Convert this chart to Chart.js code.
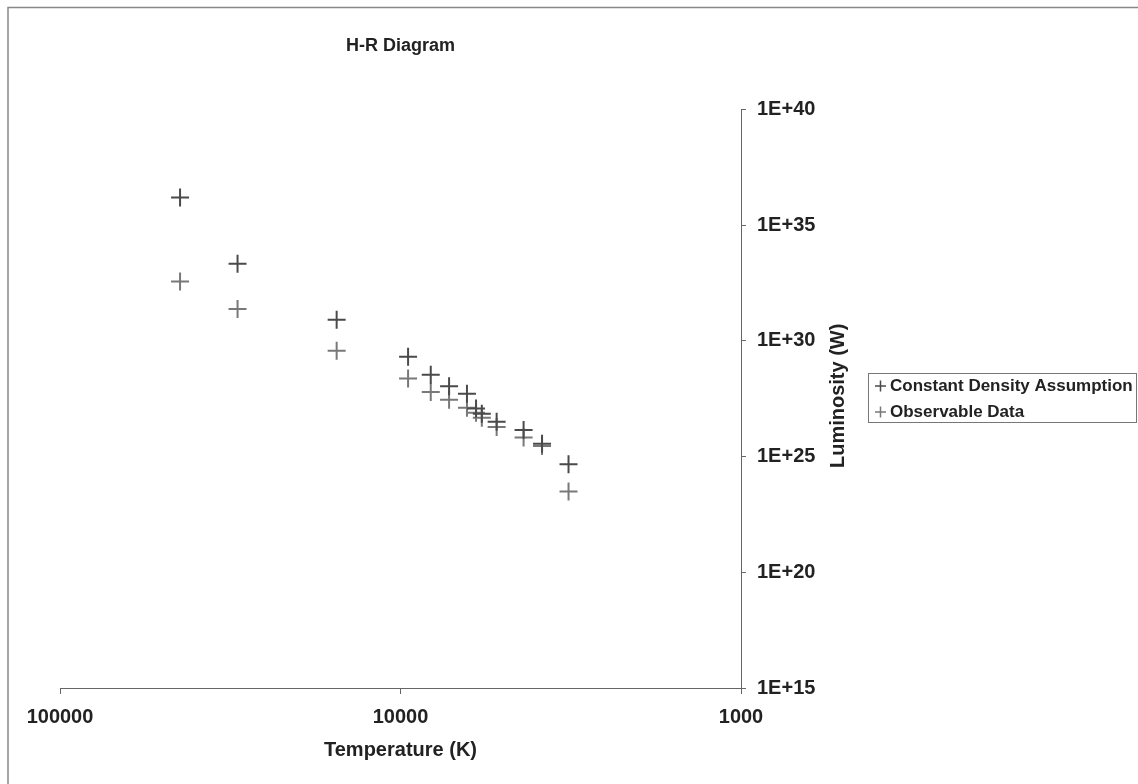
<!DOCTYPE html>
<html>
<head>
<meta charset="utf-8">
<title>H-R Diagram</title>
<script src="https://cdn.jsdelivr.net/npm/chart.js@4.4.1/dist/chart.umd.min.js"></script>
<style>
  html, body { margin: 0; padding: 0; background: #fff; }
  canvas { display: block; }
</style>
</head>
<body>
<canvas id="grafico" width="1138" height="784"></canvas>
<script>
// datos
const temperaturas = [44400, 30100, 15400, 9500, 8150, 7200, 6380, 6000, 5770, 5220, 4350, 3840, 3210];
const densidadConstante = [1.6e36, 2.2e33, 8.3e30, 2.1e29, 3.5e28, 1.1e28, 5.2e27, 1.2e27, 7.1e26, 3.2e26, 1.4e26, 3.6e25, 4.7e24];
const observables = [3.7e32, 2.4e31, 3.8e29, 2.4e28, 6.2e27, 2.9e27, 1.3e27, 7.8e26, 4.8e26, 1.9e26, 6.8e25, 2.9e25, 3.1e23];
const ticksX = [100000, 10000, 1000];
const ticksY = [1e15, 1e20, 1e25, 1e30, 1e35, 1e40];

const fuente = '"Liberation Sans", Arial, sans-serif';
const colorTexto = '#222';
const colorEje = '#666';

// marco exterior, titulo del eje Y y leyenda
const extras = {
    id: 'extras',
    afterDraw(chart) {
        const ctx = chart.ctx;
        const area = chart.chartArea;
        ctx.save();

        ctx.strokeStyle = '#888';
        ctx.lineWidth = 1.5;
        ctx.beginPath();
        ctx.moveTo(8, 784);
        ctx.lineTo(8, 7.5);
        ctx.lineTo(1138, 7.5);
        ctx.stroke();

        ctx.fillStyle = colorTexto;
        ctx.font = 'bold 20px ' + fuente;
        ctx.textAlign = 'center';
        ctx.textBaseline = 'middle';
        ctx.translate(838, (area.top + area.bottom) / 2 - 3);
        ctx.rotate(-Math.PI / 2);
        ctx.fillText('Luminosity (W)', 0, 0);
        ctx.restore();

        ctx.save();
        ctx.strokeStyle = '#777';
        ctx.lineWidth = 1;
        ctx.strokeRect(868.5, 373.5, 268, 49);
        ctx.font = 'bold 17px ' + fuente;
        ctx.textBaseline = 'middle';
        chart.data.datasets.forEach((ds, i) => {
            const y = 386 + i * 26;
            ctx.strokeStyle = ds.borderColor;
            ctx.lineWidth = 1.5;
            ctx.beginPath();
            ctx.moveTo(875, y);
            ctx.lineTo(886, y);
            ctx.moveTo(880.5, y - 5.5);
            ctx.lineTo(880.5, y + 5.5);
            ctx.stroke();
            ctx.fillStyle = colorTexto;
            ctx.fillText(ds.label, 890, y);
        });
        ctx.restore();
    }
};

const ctx = document.getElementById('grafico').getContext('2d');

new Chart(ctx, {
    type: 'scatter',
    data: {
        datasets: [{
            label: 'Constant Density Assumption',
            data: temperaturas.map((t, i) => ({ x: t, y: densidadConstante[i] })),
            pointStyle: 'cross',
            pointRadius: 9,
            pointHoverRadius: 9,
            borderWidth: 2,
            borderColor: '#4a4a4a',
            backgroundColor: '#4a4a4a'
        },
        {
            label: 'Observable Data',
            data: temperaturas.map((t, i) => ({ x: t, y: observables[i] })),
            pointStyle: 'cross',
            pointRadius: 9,
            pointHoverRadius: 9,
            borderWidth: 2,
            borderColor: '#787878',
            backgroundColor: '#787878'
        }]
    },
    options: {
        responsive: false,
        animation: false,
        layout: { padding: { left: 60, right: 0, top: 0, bottom: 0 } },
        plugins: {
            legend: { display: false },
            tooltip: { enabled: false },
            title: {
                display: true,
                text: 'H-R Diagram',
                fullSize: false,
                color: colorTexto,
                font: { family: fuente, size: 18, weight: 'bold' },
                padding: { top: 35, bottom: 53 }
            }
        },
        scales: {
            x: {
                type: 'logarithmic',
                reverse: true,
                min: 1000,
                max: 100000,
                afterBuildTicks: s => { s.ticks = ticksX.map(v => ({ value: v })); },
                afterFit: s => { s.height = 96; },
                ticks: {
                    autoSkip: false,
                    maxRotation: 0,
                    padding: 11,
                    color: colorTexto,
                    font: { family: fuente, size: 20, weight: 'bold' },
                    callback: v => String(v)
                },
                grid: { drawOnChartArea: false, tickLength: 6, color: colorEje },
                border: { color: colorEje, width: 1 },
                title: {
                    display: true,
                    text: 'Temperature (K)',
                    color: colorTexto,
                    font: { family: fuente, size: 20, weight: 'bold' },
                    padding: { top: 0, bottom: 22 }
                }
            },
            y: {
                type: 'logarithmic',
                position: 'right',
                min: 1e15,
                max: 1e40,
                afterBuildTicks: s => { s.ticks = ticksY.map(v => ({ value: v })); },
                afterFit: s => { s.width = 1138 - 741; },
                ticks: {
                    padding: 11,
                    color: colorTexto,
                    font: { family: fuente, size: 20, weight: 'bold' },
                    callback: v => '1E+' + Math.round(Math.log10(v))
                },
                grid: { drawOnChartArea: false, tickLength: 5, color: colorEje },
                border: { color: colorEje, width: 1 }
            }
        }
    },
    plugins: [extras]
});
</script>
</body>
</html>
